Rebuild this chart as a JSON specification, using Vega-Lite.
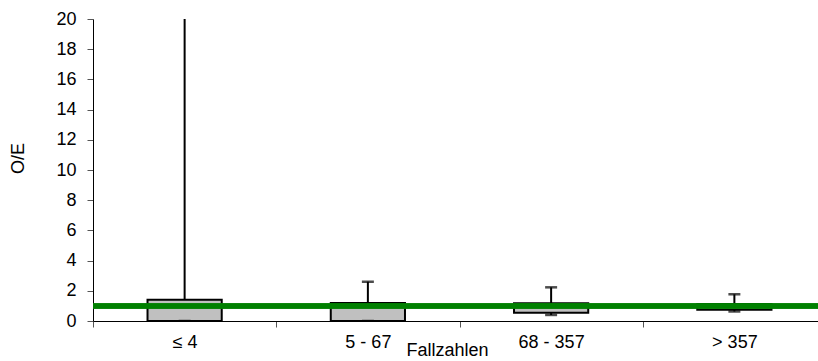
{
  "$schema": "https://vega.github.io/schema/vega-lite/v6.json",
  "width": 733,
  "height": 302,
  "autosize": {"type": "none"},
  "padding": {"left": 93, "top": 19, "right": 0, "bottom": 40},
  "background": "white",
  "config": {
    "view": {"stroke": null},
    "font": "Liberation Sans",
    "axis": {"labelFont": "Liberation Sans", "titleFont": "Liberation Sans", "labelColor": "black", "titleColor": "black", "titleFontWeight": "normal", "labelFontSize": 18, "titleFontSize": 18, "domainColor": "black", "tickColor": "#555555", "grid": false, "labelOverlap": false}
  },
  "data": {"values": [
    {"cat": "≤ 4", "lower": 0, "q1": 0, "q3": 1.4, "upper": 24},
    {"cat": "5 - 67", "lower": 0, "q1": 0, "q3": 1.2, "upper": 2.6},
    {"cat": "68 - 357", "lower": 0.4, "q1": 0.55, "q3": 1.17, "upper": 2.23},
    {"cat": "> 357", "lower": 0.63, "q1": 0.75, "q3": 1.12, "upper": 1.77}
  ]},
  "layer": [
    {"mark": {"type": "rule", "color": "black", "strokeWidth": 2, "clip": true},
     "encoding": {
       "x": {"field": "cat", "type": "nominal", "sort": null,
         "scale": {"paddingInner": 0, "paddingOuter": 0},
         "axis": {"title": "Fallzahlen", "labelAngle": 0, "tickBand": "extent", "tickSize": 6, "labelPadding": 6,
           "titleX": 354, "titleY": 34, "titleBaseline": "alphabetic", "titleAlign": "center"}},
       "y": {"field": "lower", "type": "quantitative", "scale": {"domain": [0, 20], "nice": false},
        "axis": {"title": "O/E", "values": [0,2,4,6,8,10,12,14,16,18,20], "labelOverlap": false, "tickSize": 6, "labelPadding": 11,
          "titleX": -75, "titleY": 139, "titleAngle": -90, "titleAlign": "center", "titleBaseline": "middle"}},
       "y2": {"field": "upper"}}},
    {"mark": {"type": "bar", "fill": "#c0c0c0", "stroke": "black", "strokeWidth": 2, "width": {"band": 0.405}, "clip": true},
     "encoding": {"x": {"field": "cat", "type": "nominal", "sort": null}, "y": {"field": "q1", "type": "quantitative",
        "axis": {"title": "O/E", "values": [0,2,4,6,8,10,12,14,16,18,20], "labelOverlap": false, "tickSize": 6, "labelPadding": 11,
          "titleX": -75, "titleY": 139, "titleAngle": -90, "titleAlign": "center", "titleBaseline": "middle"}}, "y2": {"field": "q3"}}},
    {"mark": {"type": "tick", "color": "black", "size": 12, "thickness": 2.5, "clip": true},
     "encoding": {"x": {"field": "cat", "type": "nominal", "sort": null}, "y": {"field": "upper", "type": "quantitative",
        "axis": {"title": "O/E", "values": [0,2,4,6,8,10,12,14,16,18,20], "labelOverlap": false, "tickSize": 6, "labelPadding": 11,
          "titleX": -75, "titleY": 139, "titleAngle": -90, "titleAlign": "center", "titleBaseline": "middle"}}}},
    {"mark": {"type": "tick", "color": "black", "size": 12, "thickness": 2.5, "clip": true},
     "encoding": {"x": {"field": "cat", "type": "nominal", "sort": null}, "y": {"field": "lower", "type": "quantitative",
        "axis": {"title": "O/E", "values": [0,2,4,6,8,10,12,14,16,18,20], "labelOverlap": false, "tickSize": 6, "labelPadding": 11,
          "titleX": -75, "titleY": 139, "titleAngle": -90, "titleAlign": "center", "titleBaseline": "middle"}}}},
    {"mark": {"type": "rule", "color": "#008000", "strokeWidth": 5},
     "encoding": {"y": {"datum": 1, "type": "quantitative",
        "axis": {"title": "O/E", "values": [0,2,4,6,8,10,12,14,16,18,20], "labelOverlap": false, "tickSize": 6, "labelPadding": 11,
          "titleX": -75, "titleY": 139, "titleAngle": -90, "titleAlign": "center", "titleBaseline": "middle"}}}}
  ]
}
